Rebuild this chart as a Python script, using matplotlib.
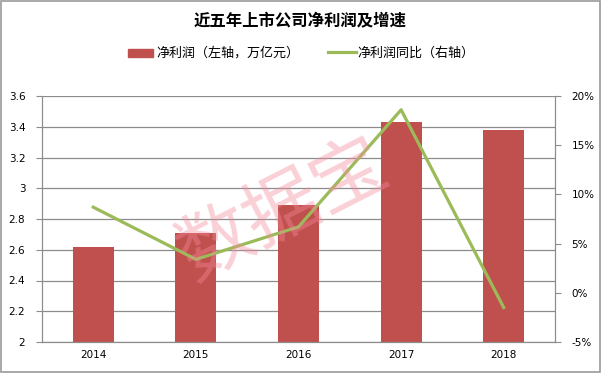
import matplotlib
matplotlib.use("Agg")
import matplotlib.pyplot as plt
import numpy as np

plt.rcParams['font.family'] = ['Noto Sans CJK SC', 'DejaVu Sans']

years = ['2014', '2015', '2016', '2017', '2018']
profit = [2.62, 2.71, 2.89, 3.43, 3.38]
growth = [8.7, 3.4, 6.7, 18.6, -1.5]
left_ticks = [2, 2.2, 2.4, 2.6, 2.8, 3, 3.2, 3.4, 3.6]
left_labels = ['2', '2.2', '2.4', '2.6', '2.8', '3', '3.2', '3.4', '3.6']
right_ticks = [-5, 0, 5, 10, 15, 20]
right_labels = ['-5%', '0%', '5%', '10%', '15%', '20%']

fig = plt.figure(figsize=(6.01, 3.73), dpi=100)
fig.patch.set_facecolor('white')
ax = fig.add_axes([42/601, 31/373, 513/601, 246/373])
x = np.arange(len(years))
ax.set_xlim(-0.5, len(years) - 0.5)
ax.set_ylim(2, 3.6)
ax.set_yticks(left_ticks)
ax.set_yticklabels(left_labels, fontsize=7.5, family=['DejaVu Sans'])
ax.grid(axis='y', color='#8c8c8c', linewidth=0.9)
ax.set_axisbelow(True)
ax.bar(x, [p - 2 for p in profit], bottom=2, width=0.4, color='#c0504d', zorder=2)
ax.set_xticks(x)
ax.set_xticklabels(years, fontsize=7.5, family=['DejaVu Sans'])
ax.tick_params(axis='x', length=0, pad=6)
ax.tick_params(axis='y', length=4, color='#8c8c8c', direction='out', pad=8)
for s in ['top']:
    ax.spines[s].set_visible(False)
for s in ['left', 'right', 'bottom']:
    ax.spines[s].set_color('#8c8c8c')

ax2 = ax.twinx()
ax2.set_ylim(-5, 20)
ax2.set_yticks(right_ticks)
ax2.set_yticklabels(right_labels, fontsize=7.5, family=['DejaVu Sans'])
ax2.tick_params(axis='y', length=4, color='#8c8c8c', direction='out', pad=8)
ax2.plot(x, growth, color='#9bbb59', linewidth=2.3, zorder=3)
ax2.spines['top'].set_visible(False)
for s in ['left', 'right', 'bottom']:
    ax2.spines[s].set_color('#8c8c8c')

fig.text(300/601, 1 - 21/373, '近五年上市公司净利润及增速', ha='center', va='center',
         fontsize=11.8, fontweight='bold')

# legend
from matplotlib.patches import Rectangle
from matplotlib.lines import Line2D
fig.patches.append(Rectangle((128/601, 1 - 57/373), 25/601, 8/373, transform=fig.transFigure,
                             color='#c0504d'))
fig.text(156/601, 1 - 53/373, '净利润（左轴，万亿元）', va='center', fontsize=9.4)
fig.lines.append(Line2D([328/601, 356/601], [1 - 52/373, 1 - 52/373], transform=fig.transFigure,
                        color='#9bbb59', linewidth=2.3))
fig.text(357/601, 1 - 53/373, '净利润同比（右轴）', va='center', fontsize=9.4)

# watermark
fig.text(283/601, 1 - 210/373, '数据宝', ha='center', va='center', fontsize=54, rotation=27,
         color='#f48a9c', alpha=0.4, zorder=10)

# border
fig.patches.append(Rectangle((0.001, 0.002), 0.997, 0.995, transform=fig.transFigure,
                             fill=False, edgecolor='#9a9a9a', linewidth=1.2))

fig.savefig('out.png', dpi=100)
